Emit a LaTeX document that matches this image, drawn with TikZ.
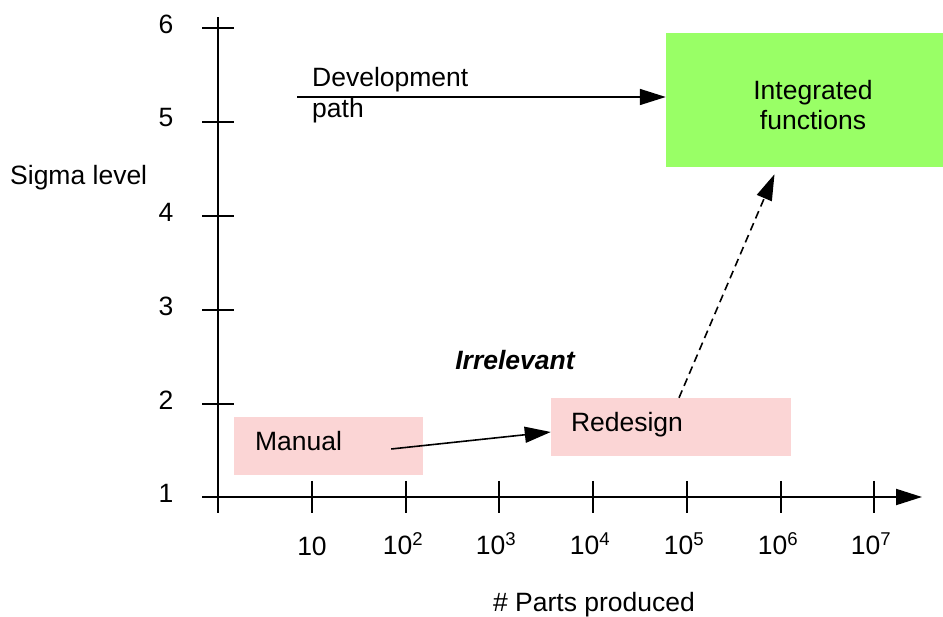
\documentclass[tikz,border=0pt]{standalone}
\usepackage{fontspec}
\setmainfont{Liberation Sans}
\usetikzlibrary{arrows.meta,calc}
\definecolor{boxpink}{RGB}{251,213,213}
\definecolor{boxgreen}{RGB}{153,255,102}
\newcommand{\tenpow}[1]{10\textsuperscript{#1}}
\begin{document}
\begin{tikzpicture}[x=1pt,y=-1pt,
  txt/.style={font=\fontsize{26.5}{30}\selectfont, inner sep=0pt},
  axisline/.style={line width=2pt},
  arr/.style={line width=1.6pt, -{Triangle[length=26pt,width=16pt]}},
  pinkbox/.style={fill=boxpink, draw=none, minimum width=#1, minimum height=58pt, inner sep=0pt},
  greenbox/.style={fill=boxgreen, draw=none, minimum width=277pt, minimum height=134pt, inner sep=0pt}]
\useasboundingbox (0,0) rectangle (943,617);

% axes
\coordinate (ytop) at (218,17);
\coordinate (ybot) at (218,513);
\coordinate (xleft) at (202,497);
\coordinate (xtip) at (922,497);
\draw[axisline] (ybot) -- (ytop);
\draw[axisline, -{Triangle[length=26pt,width=16pt]}] (xleft) -- (xtip);

% sigma ticks and labels
\foreach \yy in {28,122,216,310,404} {
  \draw[axisline] (202,\yy) -- (234,\yy);
}
\foreach \yy/\lab in {28/6,122/5,216/4,310/3,404/2,497/1} {
  \node[txt] at (166,\yy-4) {\lab};
}
% parts ticks and labels
\foreach \xx in {312,406,499,593,687,781,874} {
  \draw[axisline] (\xx,481) -- (\xx,513);
}
\node[txt] at (312,546) {10};
\foreach \xx/\ex in {403/2,496/3,590/4,684/5,778/6,871/7} {
  \node[txt] at (\xx,544) {\tenpow{\ex}};
}

% axis titles
\node[txt, anchor=west] at (10,178) {Sigma level};
\node[txt] at (594,605) {\# Parts produced};

% boxes
\node[pinkbox=189pt] (manual) at (328.5,446) {};
\node[txt, anchor=west] at ($(manual.west)+(21,-5)$) {Manual};
\node[pinkbox=240pt] (redesign) at (671,427) {};
\node[txt, anchor=west] at ($(redesign.west)+(20,-2)$) {Redesign};
\node[greenbox] (integ) at (804.5,100) {};
\node[txt, align=center] at (813,105) {Integrated\\functions};

% development path
\coordinate (devstart) at (297,97);
\node[txt, anchor=west] at (312,80) {Development};
\node[txt, anchor=west] at (312,111) {path};
\draw[arr] (devstart) -- (devstart -| integ.west);

% transitions
\draw[arr] ($(manual.east)+(-32,3)$) -- ($(redesign.west)+(0,5)$);
\draw[arr, dash pattern=on 8pt off 5pt] ($(redesign.north)+(8,0)$) -- ($(integ.south)+(-30,7)$);

\node[txt, font=\fontsize{26.5}{30}\selectfont\bfseries\itshape] at (515,360) {Irrelevant};
\end{tikzpicture}
\end{document}
